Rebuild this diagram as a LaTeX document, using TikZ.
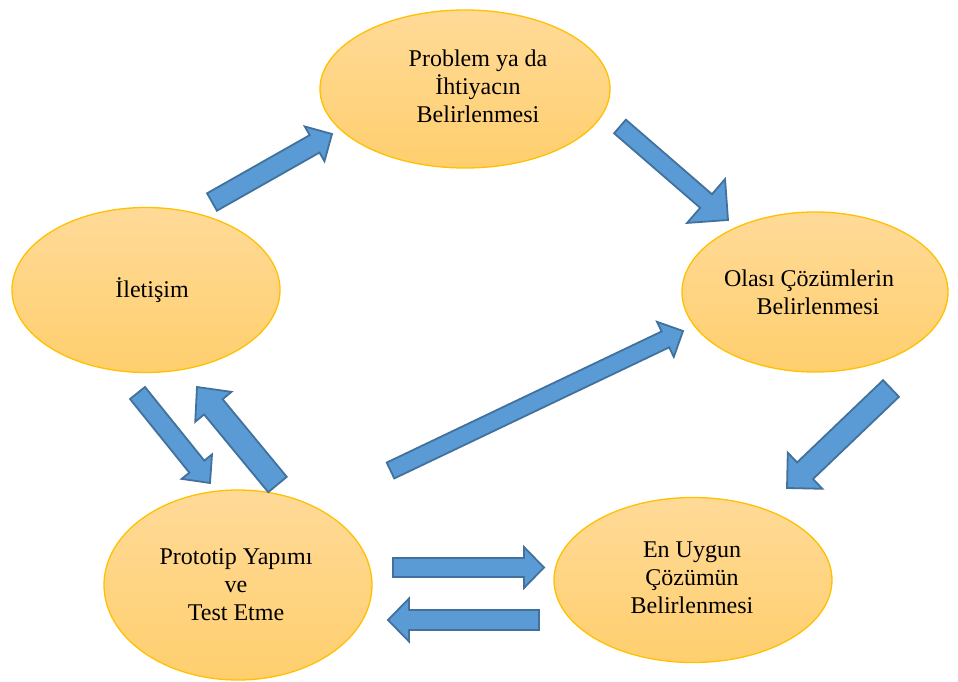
\documentclass[tikz,border=0pt]{standalone}
\usepackage{fontspec}
\setmainfont{Liberation Serif}
\usetikzlibrary{calc,shapes.geometric}

\definecolor{ovaltop}{HTML}{FFDA98}
\definecolor{ovalbot}{HTML}{FFCF6E}
\definecolor{ovalline}{HTML}{FFC000}
\definecolor{arrfill}{HTML}{5B9BD5}
\definecolor{arrline}{HTML}{41719C}

\tikzset{
  oval/.style={ellipse, draw=ovalline, line width=1.3pt,
    top color=ovaltop, bottom color=ovalbot, inner sep=0pt},
  caption/.style={align=center, font=\fontsize{24}{28}\selectfont,
    text=black, inner sep=0pt},
  blockarrow/.style={fill=arrfill, draw=arrline, line width=1.8pt,
    line join=miter},
}

% block arrow: {tail}{tip}{shaft half width}{head half width}{head length}
\newcommand\blockarr[5]{%
  \path ($(#2)!#5pt!(#1)$) coordinate (neck);
  \draw[blockarrow]
    ($(#1)!#3pt!90:(#2)$) --
    ($(neck)!#3pt!-90:(#1)$) --
    ($(neck)!#4pt!-90:(#1)$) --
    (#2) --
    ($(neck)!#4pt!90:(#1)$) --
    ($(neck)!#3pt!90:(#1)$) --
    ($(#1)!#3pt!-90:(#2)$) -- cycle;
}

\begin{document}
\begin{tikzpicture}[x=1pt, y=-1pt]
  \useasboundingbox (0,0) rectangle (958,682);

  % the five stages
  \node[oval, minimum width=290pt, minimum height=158pt] (prob)  at (465,89)  {};
  \node[oval, minimum width=268pt, minimum height=165pt] (ilet)  at (146,290) {};
  \node[oval, minimum width=266pt, minimum height=160pt] (olasi) at (815,292) {};
  \node[oval, minimum width=268pt, minimum height=190pt] (proto) at (238,585) {};
  \node[oval, minimum width=278pt, minimum height=165pt] (enuy)  at (693,580) {};

  \node[caption] (probtxt)  at (478,86)  {Problem ya da\\İhtiyacın\\Belirlenmesi};
  \node[caption] (ilettxt)  at (152,290) {İletişim};
  \node[caption] (olasitxt) at (809,292) {Olası Çözümlerin\\\hspace*{18pt}Belirlenmesi};
  \node[caption] (prototxt) at (236,585) {Prototip Yapımı\\ve\\Test Etme};
  \node[caption] (enuytxt)  at (692,578) {En Uygun\\Çözümün\\Belirlenmesi};

  % arrow ends
  \coordinate (ip-s) at (212,202);     \coordinate (ip-e) at (332,134);
  \coordinate (po-s) at (620,126.5);   \coordinate (po-e) at (728,220);
  \coordinate (xo-s) at (390.5,470.5); \coordinate (xo-e) at (683,331);
  \coordinate (oe-s) at (891,388.5);   \coordinate (oe-e) at (787,488);
  \coordinate (pe-s) at (393,567.5);   \coordinate (pe-e) at (544,567.5);
  \coordinate (ep-s) at (539,620);     \coordinate (ep-e) at (388,620);
  \coordinate (ix-s) at (137.5,393);   \coordinate (ix-e) at (210,483);
  \coordinate (xi-s) at (277.5,484.5); \coordinate (xi-e) at (197,387);

  \blockarr{ip-s}{ip-e}{10}{20}{20}
  \blockarr{po-s}{po-e}{9}{29}{29}
  \blockarr{xo-s}{xo-e}{8.8}{19.5}{19.5}
  \blockarr{oe-s}{oe-e}{11.5}{25}{25}
  \blockarr{pe-s}{pe-e}{9.5}{20.5}{20}
  \blockarr{ep-s}{ep-e}{10}{21.5}{21}
  \blockarr{ix-s}{ix-e}{9.6}{19.5}{21}
  \blockarr{xi-s}{xi-e}{12}{23.5}{25.7}
\end{tikzpicture}
\end{document}
